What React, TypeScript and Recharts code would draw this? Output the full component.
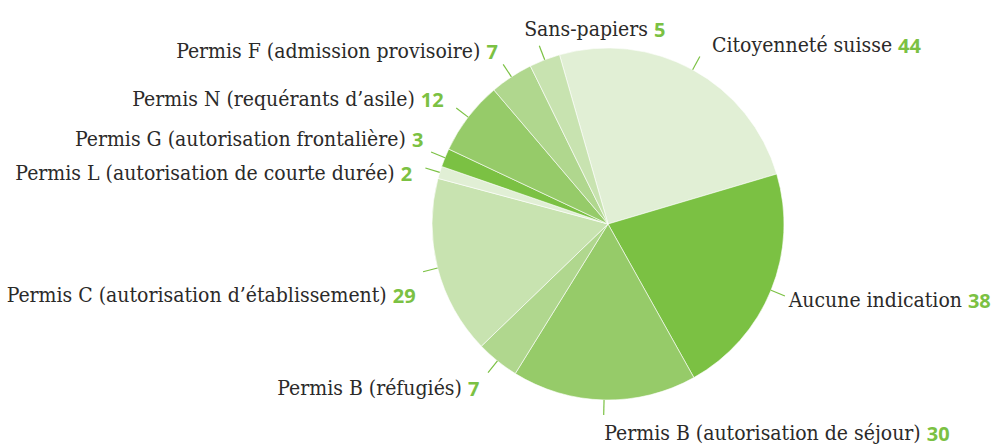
import React from "react";
import { PieChart, Pie, Cell } from "recharts";

const categories = [
  "Citoyenneté suisse",
  "Aucune indication",
  "Permis B (autorisation de séjour)",
  "Permis B (réfugiés)",
  "Permis C (autorisation d\u2019établissement)",
  "Permis L (autorisation de courte durée)",
  "Permis G (autorisation frontalière)",
  "Permis N (requérants d\u2019asile)",
  "Permis F (admission provisoire)",
  "Sans-papiers",
];
const values = [44, 38, 30, 7, 29, 2, 3, 12, 7, 5];
const colors = [
  "#e1efd5",
  "#7bc143",
  "#96cb69",
  "#b0d78e",
  "#c8e3b0",
  "#e1efd5",
  "#7bc143",
  "#96cb69",
  "#b0d78e",
  "#c8e3b0",
];

// small label nudges (dx, dy) for readability, by slice order
const labelNudges: [number, number][] = [
  [4, 3],
  [-12, -2],
  [1, 1],
  [2, 2],
  [9, 19],
  [3, 10],
  [8, -7],
  [1, 1],
  [4, 1],
  [-9, -1],
];

const data = categories.map((name, i) => ({ name, value: values[i] }));

const RAD = Math.PI / 180;
const TEXT_FONT = "'DejaVu Serif Condensed', 'DejaVu Serif', serif";
const NUM_FONT = "'Open Sans', 'DejaVu Sans', sans-serif";

const renderLabel = (props: any) => {
  const { cx, cy, midAngle, outerRadius, index, name, value } = props;
  const cos = Math.cos(-midAngle * RAD);
  const sin = Math.sin(-midAngle * RAD);
  const x1 = cx + outerRadius * cos;
  const y1 = cy + outerRadius * sin;
  const x2 = cx + (outerRadius + 15) * cos;
  const y2 = cy + (outerRadius + 15) * sin;
  const gx = cx + (outerRadius + 32) * cos;
  const gy = cy + (outerRadius + 32) * sin;
  const [dx, dy] = labelNudges[index] || [0, 0];
  const tx = gx + dx;
  const ty = gy + dy;
  const anchor = gx > cx - 80 ? "start" : "end";
  return (
    <g key={`lbl-${index}`}>
      <line x1={x1} y1={y1} x2={x2} y2={y2} stroke="#7bc143" strokeWidth={1.2} />
      <text
        x={tx}
        y={ty}
        textAnchor={anchor}
        dominantBaseline="central"
        style={{ fontFamily: TEXT_FONT, fontSize: 21, fill: "#2b2a29" }}
      >
        <tspan>{name} </tspan>
        <tspan style={{ fontFamily: NUM_FONT, fontSize: 20, fontWeight: 700, fill: "#7bc143" }}>{value}</tspan>
      </text>
    </g>
  );
};

export default function App() {
  return (
    <div style={{ position: "absolute", left: 0, top: 0, width: 992, height: 445, background: "#fff" }}>
      <PieChart width={992} height={445} margin={{ top: 0, right: 0, bottom: 0, left: 0 }}>
        <Pie
          data={data}
          dataKey="value"
          nameKey="name"
          cx={608}
          cy={224}
          outerRadius={176}
          startAngle={106}
          endAngle={-254}
          stroke="#ffffff"
          strokeWidth={0.6}
          label={renderLabel}
          labelLine={false}
          isAnimationActive={false}
        >
          {data.map((d, i) => (
            <Cell key={d.name} fill={colors[i]} />
          ))}
        </Pie>
      </PieChart>
    </div>
  );
}
